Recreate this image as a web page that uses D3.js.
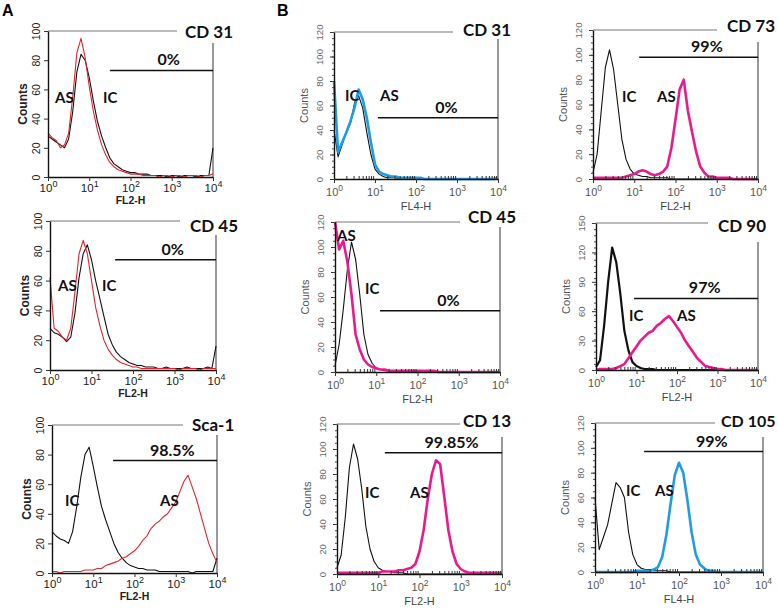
<!DOCTYPE html>
<html><head><meta charset="utf-8">
<script src="https://cdn.jsdelivr.net/npm/d3@7"></script>
<style>body{margin:0;background:#fff} svg{display:block}</style>
</head><body><svg id="c" width="778" height="611"></svg>
<script>
// histogram bins: log10 of fluorescence intensity
const binLog = [0,0.1,0.2,0.3,0.4,0.5,0.6,0.7,0.8,0.9,1.0,1.1,1.2,1.3,1.4,1.5,1.6,1.7,1.8,1.9,2.0,2.1,2.2,2.3,2.4,2.5,2.6,2.7,2.8,2.9,3.0,3.1,3.2,3.3,3.4,3.5,3.6,3.7,3.8,3.9,4.0];

// Panel A
const a1IC = [28,26,24,22,20,26,45,72,84,80, 68,52,38,28,20,13,9,7,5,4, 3,3,2,2,2,1,1,1,1,0, 1,1,0,1,1,1,0,1,1,1, 20];
const a1AS = [30,27,25,20,22,30,55,85,95,82, 62,45,32,22,15,10,7,5,4,3, 2,2,2,1,1,1,1,0,1,1, 0,1,1,0,1,1,1,0,1,1, 2];
const a2IC = [28,25,24,22,19,22,38,62,78,84, 74,60,48,36,24,17,12,9,7,5, 4,3,3,2,2,2,1,1,2,1, 1,1,1,2,1,1,1,1,2,1, 16];
const a2AS = [62,28,26,22,20,28,52,78,87,78, 60,42,30,20,14,10,7,5,4,3, 2,2,1,1,1,1,1,1,1,1, 1,0,1,1,1,1,0,1,1,1, 1];
const a3IC = [28,25,23,22,20,28,45,65,80,85, 72,58,45,36,28,20,14,10,7,5, 4,3,3,2,2,2,1,1,1,1, 1,1,1,1,0,1,1,1,1,1, 10];
const a3AS = [1,1,0,1,1,1,1,1,2,2, 2,3,3,5,6,7,8,10,11,13, 15,18,22,25,30,33,35,38,40,44, 48,55,62,66,58,50,40,30,20,13, 7];
// Panel B
const b1IC = [40,18,28,38,45,62,68,58,38,20, 8,4,2,1,1,1,0,1,0,0, 1,0,0,0,0,0,0,0,0,0, 0,0,0,0,0,0,0,0,0,0, 0];
const b1AS = [80,22,30,38,47,58,73,65,50,30, 12,6,4,3,2,2,1,1,1,1, 1,1,0,0,0,0,0,0,0,0, 0,0,0,0,0,0,0,0,0,0, 1];
const b2IC = [5,22,50,82,104,90,62,30,14,7, 3,2,1,1,0,0,0,0,0,0, 0,0,0,0,0,0,0,0,0,0, 0,0,0,0,0,0,0,0,0,0, 0];
const b2AS = [120,98,105,88,62,30,18,10,6,4, 3,2,2,1,1,1,1,1,1,1, 1,1,1,1,1,0,0,0,0,0, 0,0,0,0,0,0,0,0,0,0, 0];
const b3IC = [5,15,45,85,104,92,68,38,20,10, 5,3,2,2,1,1,1,0,0,0, 0,0,0,0,0,0,0,0,0,0, 0,0,0,0,0,0,0,0,0,0, 0];
const b3AS = [1,1,1,1,1,1,1,1,1,1, 1,2,2,2,2,3,3,4,5,8, 18,35,60,80,91,88,62,35,18,8, 4,2,1,1,1,1,1,1,1,1, 1];
const b4IC = [5,20,55,90,104,88,60,32,16,8, 4,3,2,2,1,1,1,1,1,0, 0,0,0,0,0,0,0,0,0,0, 0,0,0,0,0,0,0,0,0,0, 0];
const b4AS = [1,1,1,1,1,1,1,1,2,3, 4,6,7,6,4,3,4,6,10,25, 48,72,80,55,38,22,10,5,2,2, 1,1,1,1,0,0,0,0,0,0, 0];
const b5IC = [3,10,45,90,125,110,78,40,20,8, 4,2,1,1,1,0,0,0,0,0, 0,0,0,0,0,0,0,0,0,0, 0,0,0,0,0,0,0,0,0,0, 0];
const b5AS = [0,1,1,1,1,2,4,6,12,18, 24,30,34,38,40,45,48,52,55,50, 44,38,30,24,18,12,8,4,3,2, 1,1,0,0,0,0,0,0,0,0, 0];
const b6IC = [60,18,28,38,55,72,68,60,32,14, 6,3,2,2,1,1,1,1,0,0, 0,0,0,0,0,0,0,0,0,0, 0,0,0,0,0,0,0,0,0,0, 0];
const b6AS = [0,0,0,0,0,0,0,0,0,0, 1,1,1,1,2,4,12,30,55,78, 88,80,58,32,14,6,3,1,1,0, 0,0,0,0,0,0,0,0,0,0, 0];

const markers = ["CD 31","CD 45","Sca-1","CD 31","CD 45","CD 13","CD 73","CD 90","CD 105"];
const gatePct = ["0%","0%","98.5%","0%","0%","99.85%","99%","97%","99%"];
const gateStartLog = [1.5,1.57,1.48,1.07,1.09,1.16,1.12,0.94,1.17];
const gateLevel = [73,74,76,50,49,97,98,73,97];
const xAxisLabels = ["FL2-H","FL2-H","FL2-H","FL4-H","FL2-H","FL2-H","FL2-H","FL2-H","FL4-H"];
const yTicks100 = [0,20,40,60,80,100];
const yTicks120 = [0,20,40,60,80,100,120];
const yTicks150 = [0,30,60,90,120,150];
const xTickExp = [0,1,2,3,4];
const icSeries = [a1IC,a2IC,a3IC,b1IC,b2IC,b3IC,b4IC,b5IC,b6IC];
const asSeries = [a1AS,a2AS,a3AS,b1AS,b2AS,b3AS,b4AS,b5AS,b6AS];

// layout (positions / styles)
const RED="#e2232d", PINK="#ea1a8c", BLUE="#1f9ce2";
const layout = [
 {g:"A",l:48,t:31,r:213,b:177,topEnd:177,rs:43,tx:185,ty:38,fs:17,ymax:100,yt:yTicks100,as:[7,72],icL:[55,72],col:RED,aw:1.1,iw:1.1},
 {g:"A",l:50,t:221,r:216,b:370,topEnd:180,rs:235,tx:190,ty:232,fs:17,ymax:100,yt:yTicks100,as:[8,70],icL:[52,70],col:RED,aw:1.1,iw:1.1},
 {g:"A",l:52,t:425,r:217,b:573,topEnd:183,rs:435,tx:192,ty:431,fs:17,ymax:100,yt:yTicks100,as:[108,81],icL:[13,81],col:RED,aw:1.1,iw:1.1},
 {g:"B",l:334,t:32,r:498,b:179,topEnd:453,rs:39,tx:463,ty:36,fs:17,ymax:120,yt:yTicks120,as:[46,69],icL:[11,69],col:BLUE,aw:2.6,iw:1.1},
 {g:"B",l:335,t:222,r:500,b:372,topEnd:460,rs:227,tx:468,ty:223,fs:17,ymax:120,yt:yTicks120,as:[2,19],icL:[30,72],col:PINK,aw:2.6,iw:1.1},
 {g:"B",l:337,t:424,r:502,b:574,topEnd:460,rs:437,tx:463,ty:427,fs:17,ymax:120,yt:yTicks120,as:[73,74],icL:[28,74],col:PINK,aw:2.6,iw:1.1},
 {g:"B",l:593,t:30,r:758,b:179,topEnd:717,rs:42,tx:727,ty:32,fs:17,ymax:120,yt:yTicks120,as:[64,72],icL:[29,72],col:PINK,aw:2.6,iw:1.1},
 {g:"B",l:596,t:223,r:758,b:370,topEnd:708,rs:242,tx:718,ty:232,fs:17,ymax:150,yt:yTicks150,as:[81,98],icL:[33,98],col:PINK,aw:2.6,iw:2.2},
 {g:"B",l:595,t:423,r:763,b:572,topEnd:715,rs:437,tx:721,ty:427,fs:16,ymax:120,yt:yTicks120,as:[60,73],icL:[31,73],col:BLUE,aw:2.6,iw:1.1}
];

const svg = d3.select("#c");
const BOLD = "Lato, 'Open Sans', sans-serif";
const SANS = "'Liberation Sans', Arial, sans-serif";

svg.append("text").attr("x",2).attr("y",16).text("A").attr("font-family",SANS).attr("font-weight","bold").attr("font-size",16);
svg.append("text").attr("x",277).attr("y",16).text("B").attr("font-family",SANS).attr("font-weight","bold").attr("font-size",16);

const minorVals = [];
[1,10,100,1000].forEach(k => [2,3,4,5,6,7,8,9].forEach(m => minorVals.push(m*k)));

layout.forEach((p, idx) => {
  const isA = p.g === "A";
  const x = d3.scaleLog().domain([1,1e4]).range([p.l,p.r]);
  const y = d3.scaleLinear().domain([0,p.ymax]).range([p.b,p.t]);
  const g = svg.append("g");
  const tickCol = isA ? "#1a1a1a" : "#555";

  // frame lines
  g.append("line").attr("x1",p.l).attr("x2",p.topEnd).attr("y1",p.t).attr("y2",p.t).attr("stroke","#777").attr("stroke-width",1);
  g.append("line").attr("x1",p.r).attr("x2",p.r).attr("y1",p.rs).attr("y2",p.b).attr("stroke","#555").attr("stroke-width",1.2);

  // gate
  const gx = x(Math.pow(10, gateStartLog[idx]));
  const gy = y(gateLevel[idx]);
  g.append("line").attr("x1",gx).attr("x2",p.r).attr("y1",gy).attr("y2",gy).attr("stroke","#111").attr("stroke-width",1.5);
  g.append("text").attr("x",gx + 0.57*(p.r-gx)).attr("y",gy-5).attr("text-anchor","middle")
    .attr("font-family",BOLD).attr("font-weight","bold").attr("font-size",16).attr("fill","#111").text(gatePct[idx]);

  // histograms
  const line = d3.line().x((d,i)=>x(Math.pow(10,binLog[i]))).y(d=>y(d));
  g.append("path").datum(icSeries[idx]).attr("d",line).attr("fill","none").attr("stroke","#111").attr("stroke-width",p.iw).attr("stroke-linejoin","round");
  g.append("path").datum(asSeries[idx]).attr("d",line).attr("fill","none").attr("stroke",p.col).attr("stroke-width",p.aw).attr("stroke-linejoin","round");

  // y axis
  const ya = g.append("g").attr("transform",`translate(${p.l},0)`)
    .call(d3.axisLeft(y).tickValues(p.yt).tickSize(4).tickSizeOuter(0));
  ya.select(".domain").attr("stroke","#111").attr("stroke-width",1.4);
  ya.selectAll(".tick line").attr("stroke","#333");
  ya.selectAll(".tick text").attr("transform","rotate(-90)").attr("x",0).attr("y",isA?-12:-15).attr("dy",null)
    .attr("text-anchor","middle").attr("dominant-baseline","central")
    .attr("font-family",SANS).attr("font-size",isA?10.5:9.5).attr("fill",isA?"#222":"#666");
  if (!isA) {
    const minorY = d3.range(0,p.ymax+0.1,p.ymax/24);
    g.append("g").attr("transform",`translate(${p.l},0)`)
      .call(d3.axisLeft(y).tickValues(minorY).tickSize(2).tickFormat("").tickSizeOuter(0))
      .call(s=>s.select(".domain").remove()).selectAll("line").attr("stroke","#444");
  }

  // x axis
  const xa = g.append("g").attr("transform",`translate(0,${p.b})`)
    .call(d3.axisBottom(x).tickValues(xTickExp.map(e=>Math.pow(10,e))).tickSize(4).tickFormat("").tickSizeOuter(0));
  xa.select(".domain").attr("stroke","#111").attr("stroke-width",1.4);
  xa.selectAll(".tick line").attr("stroke","#333");
  xa.selectAll(".tick").append("text").attr("y",isA?15:17).attr("text-anchor","middle")
    .attr("font-family",SANS).attr("font-size",isA?11.5:11).attr("fill",tickCol)
    .each(function(d){
      const t = d3.select(this);
      t.append("tspan").text("10");
      t.append("tspan").attr("dy",-5).attr("font-size",isA?9:8.5).text(Math.round(Math.log10(d)));
    });
  if (!isA) {
    g.append("g").attr("transform",`translate(0,${p.b})`)
      .call(d3.axisBottom(x).tickValues(minorVals).tickSize(-3).tickFormat("").tickSizeOuter(0))
      .call(s=>s.select(".domain").remove()).selectAll("line").attr("stroke","#333");
  }
  g.append("text").attr("x",(p.l+p.r)/2).attr("y",p.b+(isA?27:31)).attr("text-anchor","middle")
    .attr("font-family",SANS).attr("font-weight",isA?"bold":"normal").attr("font-size",isA?10.5:11)
    .attr("fill",isA?"#222":"#444").text(xAxisLabels[idx]);

  // Counts
  g.append("text").attr("transform",`translate(${p.l-(isA?25:30)},${(p.t+p.b)/2}) rotate(-90)`)
    .attr("text-anchor","middle").attr("dominant-baseline","central")
    .attr("font-family",SANS).attr("font-weight",isA?"bold":"normal").attr("font-size",isA?12:11)
    .attr("fill",isA?"#222":"#555").text("Counts");

  // titles and curve labels
  g.append("text").attr("x",p.tx).attr("y",p.ty).attr("font-family",BOLD).attr("font-weight","bold")
    .attr("font-size",p.fs).attr("fill","#111").text(markers[idx]);
  g.append("text").attr("x",p.l+p.icL[0]).attr("y",p.t+p.icL[1]).attr("font-family",BOLD).attr("font-weight","bold")
    .attr("font-size",15).attr("fill","#111").text("IC");
  g.append("text").attr("x",p.l+p.as[0]).attr("y",p.t+p.as[1]).attr("font-family",BOLD).attr("font-weight","bold")
    .attr("font-size",15).attr("fill","#111").text("AS");
});
</script>
</body></html>
